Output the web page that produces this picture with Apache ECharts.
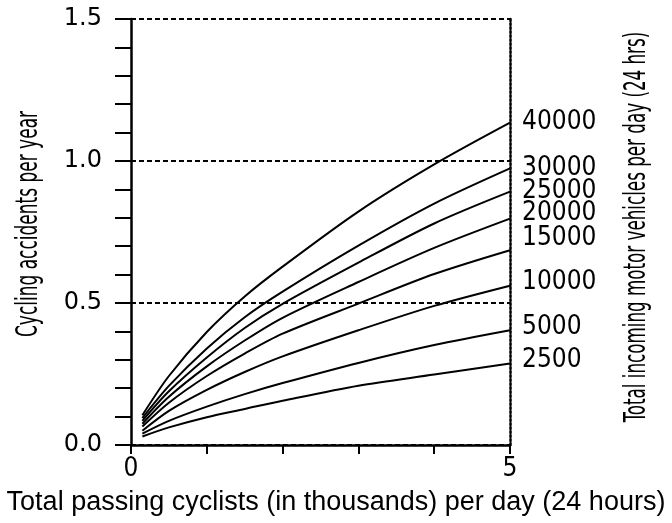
<!DOCTYPE html>
<html>
<head>
<meta charset="utf-8">
<script src="https://cdn.jsdelivr.net/npm/echarts@6/dist/echarts.min.js"></script>
<style>
html,body{margin:0;padding:0;background:#fff;}
#chart{width:672px;height:523px;}
</style>
</head>
<body>
<div id="chart"></div>
<script>
// x: total passing cyclists (thousands per day)
var cyclists = [0.15, 0.5, 1, 1.5, 2, 3, 4, 5];
// y: cycling accidents per year, one list per motor-vehicle volume
var vehicleLevels = ['40000', '30000', '25000', '20000', '15000', '10000', '5000', '2500'];
var acc40000 = [0.105, 0.243, 0.398, 0.523, 0.628, 0.822, 0.988, 1.135];
var acc30000 = [0.095, 0.208, 0.340, 0.450, 0.540, 0.702, 0.850, 0.974];
var acc25000 = [0.085, 0.189, 0.308, 0.412, 0.497, 0.642, 0.780, 0.892];
var acc20000 = [0.075, 0.170, 0.277, 0.368, 0.448, 0.574, 0.694, 0.797];
var acc15000 = [0.065, 0.149, 0.243, 0.322, 0.392, 0.498, 0.602, 0.686];
var acc10000 = [0.050, 0.120, 0.194, 0.257, 0.312, 0.404, 0.490, 0.561];
var acc5000  = [0.040, 0.085, 0.135, 0.179, 0.218, 0.289, 0.352, 0.404];
var acc2500  = [0.030, 0.062, 0.098, 0.127, 0.156, 0.209, 0.248, 0.287];
var yTicks = [0, 0.5, 1.0, 1.5];
var xTickLabels = [0, 5];
var xTitle = 'Total passing cyclists (in thousands) per day (24 hours)';
var yTitle = 'Cycling accidents per year';
var y2Title = 'Total incoming motor vehicles per day (24 hrs)';

var seriesValues = [acc40000, acc30000, acc25000, acc20000, acc15000, acc10000, acc5000, acc2500];
// label vertical nudges (style only)
var labelNudge = [0, 0, 0, -5, -12, -3, -3, -3];

var COND = '"DejaVu Sans Condensed", "Liberation Sans Narrow", "DejaVu Sans", sans-serif';

var series = vehicleLevels.map(function (name, i) {
  return {
    name: name,
    type: 'line',
    smooth: 0.3,
    symbol: 'none',
    yAxisIndex: 0,
    lineStyle: { color: '#000', width: 2 },
    data: cyclists.map(function (x, j) { return [x, seriesValues[i][j]]; }),
    endLabel: {
      show: true,
      formatter: '{a}',
      distance: 12,
      offset: [0, labelNudge[i]],
      color: '#000',
      fontSize: 26,
      fontFamily: COND
    },
    animation: false
  };
});

var chart = echarts.init(document.getElementById('chart'), null, { renderer: 'canvas' });
chart.setOption({
  backgroundColor: '#fff',
  animation: false,
  grid: { left: 131, right: 162, top: 19, bottom: 78, containLabel: false },
  xAxis: {
    type: 'value',
    min: 0, max: 5, interval: 1,
    axisLine: { show: true, onZero: false, lineStyle: { color: '#000', width: 2.5 } },
    axisTick: { show: true, length: 9, lineStyle: { color: '#000', width: 2 } },
    axisLabel: {
      margin: 11, color: '#000', fontSize: 26, fontFamily: COND,
      formatter: function (v) { return xTickLabels.indexOf(v) >= 0 ? String(v) : ''; }
    },
    splitLine: { show: false }
  },
  yAxis: [{
    type: 'value',
    min: 0, max: 1.5, interval: 0.5,
    axisLine: { show: true, lineStyle: { color: '#000', width: 2.5 } },
    axisTick: { show: true, length: 16, lineStyle: { color: '#000', width: 2 } },
    minorTick: { show: true, splitNumber: 5, length: 16, lineStyle: { color: '#000', width: 2 } },
    axisLabel: {
      margin: 29, color: '#000', fontSize: 24, fontFamily: '"DejaVu Sans", sans-serif',
      formatter: function (v) { return yTicks.indexOf(v) >= 0 ? v.toFixed(1) : ''; }
    },
    splitLine: { show: true, lineStyle: { color: '#000', width: 2, type: [5, 3] } }
  }, {
    type: 'value',
    position: 'right',
    min: 0, max: 1.5,
    axisLine: { show: true, lineStyle: { color: '#000', width: 2.5, type: [2, 2] } },
    axisTick: { show: false },
    axisLabel: { show: false },
    splitLine: { show: false }
  }],
  graphic: [{
    type: 'text',
    left: 'center',
    top: 489,
    style: {
      text: xTitle,
      fill: '#000',
      font: '27px "Liberation Sans", Arial, sans-serif'
    }
  }, {
    type: 'text',
    x: 29, y: 224,
    rotation: Math.PI / 2,
    scaleX: 0.63,
    style: {
      text: yTitle,
      fill: '#000',
      align: 'center',
      verticalAlign: 'middle',
      font: '30px ' + COND
    }
  }, {
    type: 'text',
    x: 637, y: 227,
    rotation: Math.PI / 2,
    scaleX: 0.62,
    style: {
      text: y2Title,
      fill: '#000',
      align: 'center',
      verticalAlign: 'middle',
      font: '30px ' + COND
    }
  }],
  series: series
});
</script>
</body>
</html>
